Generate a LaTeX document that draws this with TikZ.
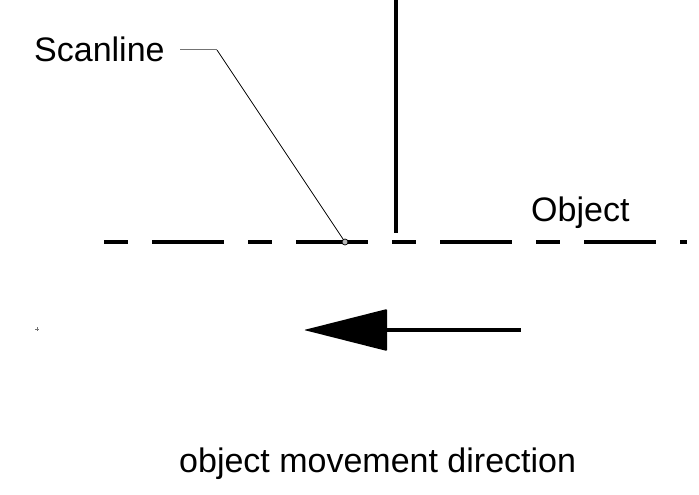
\documentclass[tikz,border=0pt]{standalone}
\usepackage{fontspec}
\setmainfont{Liberation Sans}
\usetikzlibrary{positioning}
\tikzset{lbl/.style = {inner sep=0, font=\fontsize{34}{41}\selectfont}}
\tikzset{heavy/.style = {line width=4pt}}
\definecolor{mgray}{rgb}{0.45, 0.45, 0.45}

\begin{document}
\begin{tikzpicture}[x=1pt, y=-1pt]
      \useasboundingbox (0, 0) rectangle (699, 495);

      % scanning edge and moving object
      \draw [heavy] (396, 0) -- (396, 233);
      \draw [heavy, dash pattern=on 24pt off 24pt on 72pt off 24pt] (104, 242) -- (687, 242);

      \node [lbl, anchor=base west] (obj) at (531, 221) {Object};
      \node [lbl, anchor=base west] (scan) at (34, 62) {Scanline};

      % leader
      \coordinate (lead) at (180, 50);
      \coordinate (knee) at (217, 50);
      \coordinate (hit) at (345, 242);
      \draw [mgray, line width=1pt] (lead) -- (knee);
      \draw [line width=0.7pt] (knee) -- (hit);
      \draw [line width=0.7pt, fill=mgray!50] (hit) circle [radius=3];

      % direction arrow
      \coordinate (tip) at (304, 330);
      \coordinate (base) at (387, 330);
      \coordinate (tail) at (521, 330);
      \fill [rounded corners=1pt] (tip) -- (387, 309) -- (387, 351) -- cycle;
      \draw [heavy] (base) -- (tail);

      \draw [mgray, line width=0.5pt] (35, 329) -- (39, 329) (37, 327) -- (37, 331);

      \node [lbl, anchor=base west] (dir) at (179, 472) {object movement direction};
    \end{tikzpicture}
\end{document}
